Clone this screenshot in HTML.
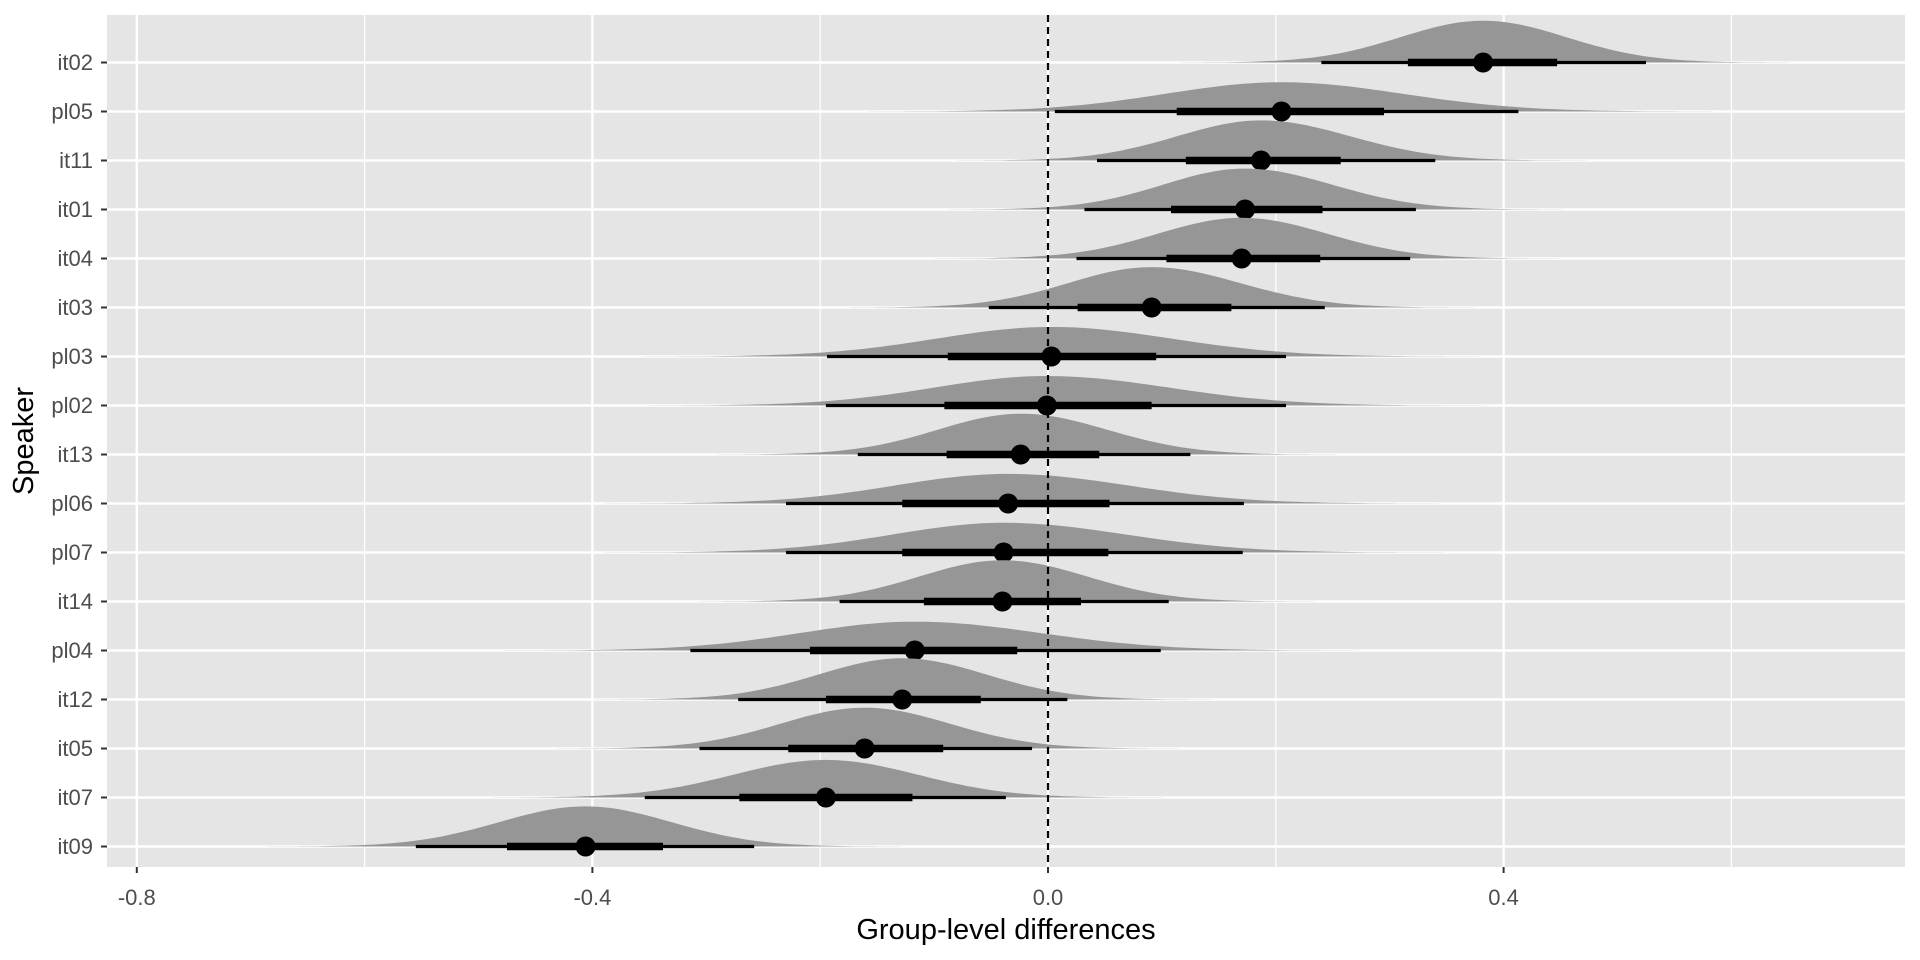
<!DOCTYPE html>
<html><head><meta charset="utf-8"><style>
html,body{margin:0;padding:0;background:#fff;}
svg{display:block;font-family:"Liberation Sans",Arial,sans-serif;}
</style></head><body>
<svg id="chart" width="1920" height="960" xmlns="http://www.w3.org/2000/svg"></svg>
<script>
const speakers=["it02","pl05","it11","it01","it04","it03","pl03","pl02","it13","pl06","pl07","it14","pl04","it12","it05","it07","it09"];
const medians=[0.382,0.205,0.187,0.173,0.170,0.091,0.003,-0.001,-0.024,-0.035,-0.039,-0.040,-0.117,-0.128,-0.161,-0.195,-0.406];
const thickLo=[0.316,0.113,0.121,0.108,0.104,0.026,-0.088,-0.091,-0.089,-0.128,-0.128,-0.109,-0.209,-0.195,-0.228,-0.271,-0.475];
const thickHi=[0.447,0.295,0.257,0.241,0.239,0.161,0.095,0.091,0.045,0.054,0.053,0.029,-0.027,-0.059,-0.092,-0.119,-0.338];
const thinLo=[0.240,0.006,0.043,0.032,0.025,-0.052,-0.194,-0.195,-0.167,-0.230,-0.230,-0.183,-0.314,-0.272,-0.306,-0.354,-0.555];
const thinHi=[0.525,0.413,0.340,0.323,0.318,0.243,0.209,0.209,0.125,0.172,0.171,0.106,0.099,0.017,-0.014,-0.037,-0.258];
const majorTicks=[-0.8,-0.4,0.0,0.4];
const tickLabels=["-0.8","-0.4","0.0","0.4"];
const minorTicks=[-0.6,-0.2,0.2,0.6];

const P={l:107,r:1905,t:15,b:867};
const x=v=>1048+v*1139;
const y=i=>62.5+i*49;
const NS="http://www.w3.org/2000/svg";
const svg=document.getElementById('chart');
function mk(tag,attrs,parent){const e=document.createElementNS(NS,tag);for(const k in attrs)e.setAttribute(k,attrs[k]);(parent||svg).appendChild(e);return e;}

const bg=mk('rect',{x:P.l,y:P.t,width:P.r-P.l,height:P.b-P.t,fill:'#e5e5e5'});


minorTicks.forEach(v=>{const l=mk('line',{x1:x(v),x2:x(v),y1:P.t,y2:P.b,stroke:'#fff','stroke-width':1.2});

});
majorTicks.forEach(v=>{const l=mk('line',{x1:x(v),x2:x(v),y1:P.t,y2:P.b,stroke:'#fff','stroke-width':2.4});

});
speakers.forEach((s,i)=>{const l=mk('line',{x1:P.l,x2:P.r,y1:y(i),y2:y(i),stroke:'#fff','stroke-width':2.4});

});

const refSd=0.073, refH=34*1.2245;
speakers.forEach((s,i)=>{
  const m=medians[i], sl=(m-thinLo[i])/1.96, sr=(thinHi[i]-m)/1.96, sd=(sl+sr)/2;
  const h=refH*refSd/sd;
  const pts=[];
  const lo=m-5.2*sl, hi=m+5.2*sr;
  for(let k=0;k<=140;k++){const v=lo+(hi-lo)*k/140;const s2=v<m?sl:sr;const d=Math.exp(-0.5*((v-m)/s2)**2);pts.push(x(v).toFixed(1)+','+(y(i)-h*d).toFixed(1));}
  const g=mk('g',{});
  
  
  const poly=mk('polygon',{points:x(lo)+','+y(i)+' '+pts.join(' ')+' '+x(hi)+','+y(i),fill:'#969696'},g);
  
  
  const t1=mk('line',{x1:x(thinLo[i]),x2:x(thinHi[i]),y1:y(i),y2:y(i),stroke:'#000','stroke-width':3.2},g);
  
  
  const t2=mk('line',{x1:x(thickLo[i]),x2:x(thickHi[i]),y1:y(i),y2:y(i),stroke:'#000','stroke-width':7.5},g);
  
  
  const c=mk('circle',{cx:x(m),cy:y(i),r:10,fill:'#000'},g);
  
  
});
const zl=mk('line',{x1:x(0),x2:x(0),y1:P.t,y2:P.b,stroke:'#000','stroke-width':2.2,'stroke-dasharray':'7,5'});



speakers.forEach((s,i)=>{
  const tk=mk('line',{x1:P.l-6,x2:P.l,y1:y(i),y2:y(i),stroke:'#333','stroke-width':2});
  
  
  const t=mk('text',{x:P.l-14,y:y(i)+7.5,'text-anchor':'end','font-size':22,fill:'#4d4d4d'});
  t.textContent=s;
  
  
});
majorTicks.forEach((v,i)=>{
  const tk=mk('line',{x1:x(v),x2:x(v),y1:P.b,y2:P.b+6,stroke:'#333','stroke-width':2});
  
  
  const t=mk('text',{x:x(v),y:905,'text-anchor':'middle','font-size':22,fill:'#4d4d4d'});
  t.textContent=tickLabels[i];
  
  
});
const xt=mk('text',{x:(P.l+P.r)/2,y:939,'text-anchor':'middle','font-size':29,fill:'#000'});
xt.textContent='Group-level differences';


const yt=mk('text',{x:0,y:0,'text-anchor':'middle','font-size':29,fill:'#000',transform:'translate(33,'+((P.t+P.b)/2)+') rotate(-90)'});
yt.textContent='Speaker';


</script>
</body></html>
